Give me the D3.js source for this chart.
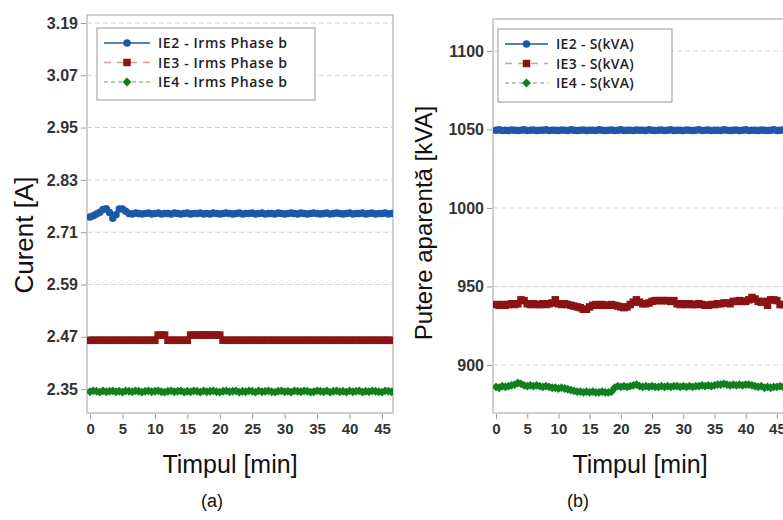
<!DOCTYPE html>
<html>
<head>
<meta charset="utf-8">
<script src="https://cdn.jsdelivr.net/npm/d3@7"></script>
<style>
    body { margin: 0; background: #fff; }
    svg { display: block; }
    .tick text { font-family: "Liberation Sans Narrow", "Arial Narrow", sans-serif; font-weight: bold; fill: #333; }
    .tick line { stroke: #9a9a9a; }
    .legend text { font-family: "Open Sans", sans-serif; font-size: 14px; font-weight: 600; fill: #222; }
    .title { font-family: "Liberation Sans", Arial, sans-serif; fill: #111; }
</style>
</head>
<body>
<svg id="chart" width="783" height="520"></svg>
<script>
/* Two panels: phase b current (a) and apparent power (b), sampled every 0.5 min */

var sampleStep = 0.5; // minutes between samples
var timeTicks = [0, 5, 10, 15, 20, 25, 30, 35, 40, 45];
var currentTicks = [2.35, 2.47, 2.59, 2.71, 2.83, 2.95, 3.07, 3.19];
var powerTicks = [900, 950, 1000, 1050, 1100];

var currentNames = ["IE2 - Irms Phase b", "IE3 - Irms Phase b", "IE4 - Irms Phase b"];
var powerNames = ["IE2 - S(kVA)", "IE3 - S(kVA)", "IE4 - S(kVA)"];

// Irms phase b [A]
var currentIE2 = [
    2.745, 2.748, 2.752, 2.756, 2.762, 2.764, 2.755, 2.742, 2.750, 2.763,
    2.763, 2.758, 2.753, 2.752, 2.754, 2.753, 2.752, 2.753, 2.754, 2.752,
    2.753, 2.754, 2.752, 2.753, 2.753, 2.752, 2.754, 2.753, 2.752, 2.753,
    2.754, 2.752, 2.753, 2.753, 2.754, 2.752, 2.753, 2.752, 2.754, 2.753,
    2.752, 2.753, 2.754, 2.753, 2.752, 2.753, 2.754, 2.752, 2.753, 2.753,
    2.754, 2.752, 2.753, 2.754, 2.752, 2.753, 2.753, 2.752, 2.754, 2.753,
    2.752, 2.753, 2.754, 2.753, 2.752, 2.754, 2.753, 2.752, 2.753, 2.754,
    2.753, 2.752, 2.753, 2.754, 2.752, 2.753, 2.754, 2.753, 2.752, 2.753,
    2.754, 2.752, 2.753, 2.753, 2.754, 2.752, 2.753, 2.754, 2.752, 2.753,
    2.753, 2.754, 2.752, 2.753
];
var currentIE3 = [
    2.462, 2.462, 2.462, 2.462, 2.462, 2.462, 2.462, 2.462, 2.462, 2.462,
    2.462, 2.462, 2.462, 2.462, 2.462, 2.462, 2.462, 2.462, 2.462, 2.462,
    2.462, 2.474, 2.474, 2.474, 2.462, 2.462, 2.462, 2.462, 2.462, 2.462,
    2.462, 2.474, 2.474, 2.474, 2.474, 2.474, 2.474, 2.474, 2.474, 2.474,
    2.474, 2.462, 2.462, 2.462, 2.462, 2.462, 2.462, 2.462, 2.462, 2.462,
    2.462, 2.462, 2.462, 2.462, 2.462, 2.462, 2.462, 2.462, 2.462, 2.462,
    2.462, 2.462, 2.462, 2.462, 2.462, 2.462, 2.462, 2.462, 2.462, 2.462,
    2.462, 2.462, 2.462, 2.462, 2.462, 2.462, 2.462, 2.462, 2.462, 2.462,
    2.462, 2.462, 2.462, 2.462, 2.462, 2.462, 2.462, 2.462, 2.462, 2.462,
    2.462, 2.462, 2.462, 2.462
];
var currentIE4 = [
    2.344, 2.346, 2.345, 2.343, 2.346, 2.344, 2.345, 2.346, 2.344, 2.345,
    2.343, 2.346, 2.345, 2.344, 2.346, 2.345, 2.343, 2.345, 2.346, 2.344,
    2.345, 2.346, 2.344, 2.343, 2.345, 2.346, 2.344, 2.345, 2.346, 2.343,
    2.345, 2.344, 2.346, 2.345, 2.343, 2.346, 2.344, 2.345, 2.346, 2.344,
    2.343, 2.345, 2.346, 2.344, 2.345, 2.346, 2.343, 2.345, 2.344, 2.346,
    2.345, 2.343, 2.346, 2.344, 2.345, 2.346, 2.344, 2.343, 2.345, 2.346,
    2.344, 2.345, 2.343, 2.346, 2.345, 2.344, 2.346, 2.345, 2.343, 2.344,
    2.346, 2.345, 2.344, 2.346, 2.343, 2.345, 2.346, 2.344, 2.345, 2.343,
    2.346, 2.344, 2.345, 2.346, 2.343, 2.345, 2.344, 2.346, 2.345, 2.344,
    2.343, 2.346, 2.345, 2.344
];

// Apparent power S [kVA]
var powerIE2 = [
    1049.5, 1049.8, 1049.3, 1049.6, 1049.4, 1049.7, 1049.5, 1049.3, 1049.6, 1049.8,
    1049.4, 1049.5, 1049.7, 1049.3, 1049.6, 1049.5, 1049.8, 1049.4, 1049.5, 1049.6,
    1049.3, 1049.7, 1049.5, 1049.4, 1049.8, 1049.6, 1049.3, 1049.5, 1049.7, 1049.4,
    1049.6, 1049.5, 1049.3, 1049.8, 1049.5, 1049.4, 1049.6, 1049.7, 1049.3, 1049.5,
    1049.8, 1049.4, 1049.6, 1049.5, 1049.3, 1049.7, 1049.5, 1049.6, 1049.4, 1049.8,
    1049.5, 1049.3, 1049.6, 1049.7, 1049.4, 1049.5, 1049.8, 1049.3, 1049.6, 1049.5,
    1049.4, 1049.7, 1049.5, 1049.3, 1049.6, 1049.8, 1049.4, 1049.5, 1049.7, 1049.3,
    1049.6, 1049.5, 1049.4, 1049.8, 1049.5, 1049.3, 1049.6, 1049.7, 1049.4, 1049.5,
    1049.8, 1049.3, 1049.6, 1049.5, 1049.4, 1049.7, 1049.5, 1049.3, 1049.6, 1049.8,
    1049.4, 1049.5, 1049.7, 1049.5
];
var powerIE3 = [
    938.5, 938.0, 938.5, 938.0, 938.5, 939.0, 938.5, 939.0, 941.5, 941.0,
    939.0, 938.5, 939.0, 938.5, 938.5, 939.0, 938.5, 939.0, 939.5, 941.5,
    939.0, 938.5, 939.0, 938.5, 938.0, 937.5, 937.0, 936.5, 935.5, 935.5,
    937.0, 938.0, 938.5, 938.0, 938.5, 938.0, 938.0, 938.5, 938.0, 937.5,
    937.0, 936.5, 937.0, 938.5, 940.0, 941.5, 940.0, 939.0, 939.0, 939.5,
    940.5, 941.0, 941.0, 941.0, 941.0, 941.0, 940.5, 941.0, 939.0, 938.5,
    939.0, 938.5, 939.0, 938.5, 938.5, 939.0, 938.5, 938.0, 938.0, 938.5,
    938.5, 939.0, 939.0, 939.5, 939.5, 939.0, 940.5, 940.5, 941.0, 940.5,
    940.5, 941.5, 943.0, 942.0, 940.5, 940.0, 940.5, 938.0, 941.5, 941.5,
    941.0, 938.5, 938.5, 938.5
];
var powerIE4 = [
    886.0, 885.5, 886.5, 886.0, 886.5, 887.0, 887.5, 888.5, 888.0, 887.0,
    886.5, 887.0, 886.5, 887.0, 886.5, 886.0, 886.5, 886.0, 885.5, 885.5,
    885.0, 885.5, 885.0, 884.5, 884.0, 883.5, 883.0, 883.0, 882.5, 883.0,
    882.5, 883.0, 882.5, 882.5, 883.0, 882.5, 882.5, 883.0, 885.5, 886.5,
    886.0, 886.5, 886.0, 886.5, 887.0, 887.5, 886.5, 886.0, 886.5, 886.0,
    886.5, 886.0, 886.0, 886.5, 886.0, 886.5, 886.0, 886.5, 886.5, 886.0,
    886.5, 886.0, 886.5, 886.0, 886.5, 886.5, 887.0, 886.5, 887.0, 886.5,
    887.0, 887.5, 887.5, 888.0, 887.5, 887.0, 887.5, 887.0, 887.5, 887.0,
    887.5, 887.5, 887.0, 886.5, 886.0, 886.5, 885.5, 886.0, 885.5, 886.0,
    886.0, 886.5, 886.0, 886.0
];

var seriesColors = ["#1d58a8", "#8c1313", "#10801f"];
var legendLineColors = ["#1d58a8", "#d89a9a", "#8cc890"];
var legendDash = [null, "7,6", "4,3"];
var seriesSymbols = [d3.symbolCircle, d3.symbolSquare, d3.symbolDiamond2];
var symbolSizes = [44, 56, 50];

var svg = d3.select("#chart");

function cleanAxis(g) {
    g.select(".domain").remove();
}

function drawPanel(p) {
    var g = svg.append("g");

    var x = d3.scaleLinear().domain(p.xDomain).range([p.left, p.right]);
    var y = d3.scaleLinear().domain(p.yDomain).range([p.bottom, p.top]);

    // dashed grid
    g.selectAll(".grid")
        .data(p.yTicks)
        .enter()
        .append("line")
        .attr("x1", p.left)
        .attr("x2", p.right)
        .attr("y1", function (d) { return y(d); })
        .attr("y2", function (d) { return y(d); })
        .attr("stroke", "#d4d4d4")
        .attr("stroke-dasharray", "5,3");

    // frame
    g.append("rect")
        .attr("x", p.left)
        .attr("y", p.top)
        .attr("width", p.right - p.left)
        .attr("height", p.bottom - p.top)
        .attr("fill", "none")
        .attr("stroke", "#c4c4c4")
        .attr("stroke-width", 1.6);

    g.append("g")
        .attr("transform", "translate(" + (p.left - 1) + ",0)")
        .call(d3.axisLeft(y).tickValues(p.yTicks).tickFormat(p.yFormat).tickSize(5).tickPadding(3))
        .call(cleanAxis)
        .selectAll("text").style("font-size", "16px");

    g.append("g")
        .attr("transform", "translate(0," + (p.bottom + 1) + ")")
        .call(d3.axisBottom(x).tickValues(timeTicks).tickSize(5).tickPadding(4))
        .call(cleanAxis)
        .selectAll("text").style("font-size", "15px");

    // series
    g.append("clipPath")
        .attr("id", p.id + "-clip")
        .append("rect")
        .attr("x", p.left)
        .attr("y", p.top)
        .attr("width", p.right - p.left)
        .attr("height", p.bottom - p.top);

    var plot = g.append("g").attr("clip-path", "url(#" + p.id + "-clip)");

    p.series.forEach(function (values, k) {
        var pts = values.map(function (v, i) { return [i * sampleStep, v]; });

        plot.append("path")
            .datum(pts)
            .attr("fill", "none")
            .attr("stroke", seriesColors[k])
            .attr("stroke-width", 1.5)
            .attr("d", d3.line().x(function (d) { return x(d[0]); }).y(function (d) { return y(d[1]); }));

        plot.selectAll(".pt" + k)
            .data(pts)
            .enter()
            .append("path")
            .attr("transform", function (d) { return "translate(" + x(d[0]) + "," + y(d[1]) + ")"; })
            .attr("d", d3.symbol().type(seriesSymbols[k]).size(symbolSizes[k]))
            .attr("fill", seriesColors[k]);
    });

    // legend
    var lg = g.append("g").attr("class", "legend");
    lg.append("rect")
        .attr("x", p.legend.x)
        .attr("y", p.legend.y)
        .attr("width", p.legend.w)
        .attr("height", p.legend.h)
        .attr("fill", "#fff")
        .attr("stroke", "#a8a8a8")
        .attr("stroke-width", 1.2);

    p.names.forEach(function (name, k) {
        var ly = p.legend.y + 15 + k * 19.5;
        var lx = p.legend.x + 7;
        lg.append("line")
            .attr("x1", lx)
            .attr("x2", lx + p.legend.lineW)
            .attr("y1", ly)
            .attr("y2", ly)
            .attr("stroke", legendLineColors[k])
            .attr("stroke-width", 1.5)
            .attr("stroke-dasharray", legendDash[k]);
        lg.append("path")
            .attr("transform", "translate(" + (lx + p.legend.lineW / 2) + "," + ly + ")")
            .attr("d", d3.symbol().type(seriesSymbols[k]).size(symbolSizes[k]))
            .attr("fill", seriesColors[k]);
        lg.append("text")
            .attr("x", lx + p.legend.lineW + 8)
            .attr("y", ly + 5)
            .style("letter-spacing", p.legend.spacing + "px")
            .text(name);
    });

    // titles
    svg.append("text")
        .attr("class", "title")
        .attr("transform", "translate(" + p.yTitle.x + "," + p.yTitle.y + ") rotate(-90)")
        .attr("text-anchor", "middle")
        .style("font-size", p.yTitle.size + "px")
        .text(p.yTitle.text);

    svg.append("text")
        .attr("class", "title")
        .attr("x", p.xTitleX)
        .attr("y", 473)
        .attr("text-anchor", "middle")
        .style("font-size", "25px")
        .text("Timpul [min]");

    svg.append("text")
        .attr("class", "title")
        .attr("x", p.captionX)
        .attr("y", 507)
        .attr("text-anchor", "middle")
        .style("font-size", "18px")
        .text(p.caption);
}

drawPanel({
    id: "current",
    left: 87, right: 393, top: 15, bottom: 413,
    xDomain: [-0.47, 46.7],
    yDomain: [2.2952, 3.2083],
    yTicks: currentTicks,
    yFormat: d3.format(".2f"),
    series: [currentIE2, currentIE3, currentIE4],
    names: currentNames,
    legend: { x: 97, y: 28, w: 218, h: 72, lineW: 46, spacing: 0.6 },
    yTitle: { text: "Curent [A]", x: 33, y: 235, size: 26 },
    xTitleX: 230,
    captionX: 212,
    caption: "(a)"
});

drawPanel({
    id: "power",
    left: 493, right: 800, top: 19, bottom: 413,
    xDomain: [-0.48, 48.7],
    yDomain: [869.4, 1120.4],
    yTicks: powerTicks,
    yFormat: d3.format("d"),
    series: [powerIE2, powerIE3, powerIE4],
    names: powerNames,
    legend: { x: 498, y: 29, w: 174, h: 73, lineW: 43, spacing: 0.3 },
    yTitle: { text: "Putere aparentă [kVA]", x: 432, y: 223, size: 24 },
    xTitleX: 640,
    captionX: 578,
    caption: "(b)"
});
</script>
</body>
</html>
